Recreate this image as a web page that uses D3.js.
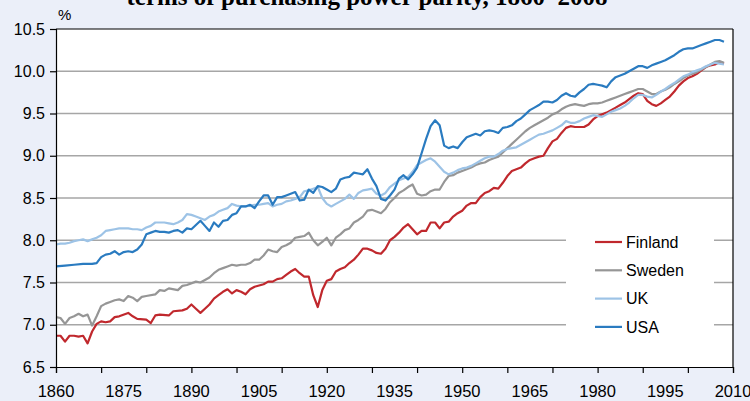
<!DOCTYPE html>
<html>
<head>
<meta charset="utf-8">
<script src="https://cdn.jsdelivr.net/npm/d3@7"></script>
<style>
  body { margin: 0; background: #ebeff9; }
  svg { display: block; }
  text { font-family: "Liberation Sans", Arial, sans-serif; }
</style>
</head>
<body>
<svg id="chart" width="750" height="401"></svg>
<script>
// log of GDP per capita ([year, value])
var finland = [[1860,6.87],[1861,6.87],[1862,6.80],[1863,6.87],[1864,6.87],[1865,6.86],[1866,6.87],[1867,6.78],[1868,6.92],[1869,7.01],[1870,7.04],[1871,7.03],[1872,7.04],[1873,7.09],[1874,7.10],[1876,7.14],[1877,7.10],[1878,7.07],[1880,7.06],[1881,7.02],[1882,7.11],[1883,7.12],[1885,7.11],[1886,7.16],[1888,7.17],[1889,7.19],[1890,7.24],[1891,7.19],[1892,7.14],[1893,7.19],[1894,7.24],[1895,7.31],[1896,7.35],[1897,7.39],[1898,7.42],[1899,7.37],[1900,7.41],[1901,7.39],[1902,7.36],[1903,7.42],[1904,7.45],[1906,7.48],[1907,7.51],[1908,7.51],[1909,7.54],[1910,7.55],[1911,7.59],[1912,7.63],[1913,7.66],[1914,7.61],[1915,7.57],[1916,7.57],[1917,7.35],[1918,7.21],[1919,7.41],[1920,7.52],[1921,7.54],[1922,7.63],[1923,7.66],[1924,7.68],[1925,7.73],[1926,7.77],[1927,7.83],[1928,7.90],[1929,7.90],[1930,7.88],[1931,7.85],[1932,7.84],[1933,7.90],[1934,8.00],[1935,8.04],[1936,8.09],[1937,8.15],[1938,8.19],[1939,8.13],[1940,8.07],[1941,8.11],[1942,8.11],[1943,8.21],[1944,8.21],[1945,8.14],[1946,8.21],[1947,8.22],[1948,8.28],[1949,8.32],[1950,8.35],[1951,8.41],[1952,8.44],[1953,8.44],[1954,8.51],[1955,8.56],[1956,8.58],[1957,8.62],[1958,8.61],[1959,8.68],[1960,8.76],[1961,8.82],[1962,8.84],[1963,8.86],[1964,8.91],[1965,8.95],[1966,8.97],[1967,8.99],[1968,9.00],[1969,9.09],[1970,9.17],[1971,9.20],[1972,9.27],[1973,9.33],[1974,9.35],[1975,9.34],[1976,9.34],[1977,9.34],[1978,9.37],[1979,9.43],[1980,9.47],[1981,9.49],[1982,9.51],[1983,9.54],[1984,9.57],[1985,9.60],[1986,9.63],[1987,9.67],[1988,9.71],[1989,9.74],[1990,9.73],[1991,9.65],[1992,9.61],[1993,9.59],[1994,9.62],[1995,9.66],[1996,9.70],[1997,9.76],[1998,9.83],[1999,9.88],[2000,9.92],[2001,9.94],[2002,9.97],[2003,10.01],[2004,10.05],[2005,10.07],[2006,10.08],[2007,10.11],[2008,10.09]];

var sweden = [[1860,7.09],[1861,7.08],[1862,7.01],[1863,7.08],[1864,7.10],[1865,7.13],[1866,7.10],[1867,7.12],[1868,6.99],[1869,7.10],[1870,7.22],[1871,7.25],[1872,7.27],[1873,7.29],[1874,7.30],[1875,7.28],[1876,7.34],[1877,7.32],[1878,7.28],[1879,7.33],[1880,7.34],[1882,7.36],[1883,7.41],[1884,7.40],[1885,7.43],[1887,7.41],[1888,7.46],[1889,7.47],[1891,7.51],[1892,7.50],[1893,7.53],[1894,7.56],[1895,7.61],[1896,7.65],[1897,7.67],[1898,7.69],[1899,7.71],[1900,7.70],[1901,7.71],[1902,7.71],[1903,7.73],[1904,7.77],[1905,7.77],[1906,7.82],[1907,7.89],[1908,7.87],[1909,7.86],[1910,7.92],[1911,7.94],[1912,7.97],[1913,8.03],[1914,8.04],[1915,8.05],[1916,8.09],[1917,8.00],[1918,7.94],[1919,7.98],[1920,8.03],[1921,7.94],[1922,8.03],[1923,8.07],[1924,8.12],[1925,8.14],[1926,8.21],[1927,8.24],[1928,8.28],[1929,8.35],[1930,8.36],[1931,8.34],[1932,8.32],[1933,8.37],[1934,8.45],[1935,8.50],[1936,8.56],[1937,8.59],[1938,8.63],[1939,8.66],[1940,8.55],[1941,8.53],[1942,8.54],[1943,8.58],[1944,8.60],[1945,8.60],[1946,8.69],[1947,8.76],[1948,8.77],[1949,8.80],[1950,8.82],[1951,8.84],[1952,8.86],[1953,8.89],[1954,8.91],[1955,8.92],[1956,8.95],[1957,8.97],[1958,8.99],[1959,9.04],[1960,9.09],[1961,9.14],[1962,9.19],[1963,9.24],[1964,9.29],[1965,9.33],[1966,9.36],[1967,9.39],[1968,9.42],[1969,9.45],[1970,9.49],[1971,9.51],[1972,9.55],[1973,9.58],[1974,9.60],[1975,9.61],[1976,9.60],[1977,9.59],[1978,9.61],[1979,9.62],[1980,9.62],[1981,9.63],[1982,9.65],[1983,9.67],[1984,9.69],[1985,9.71],[1986,9.73],[1987,9.75],[1988,9.77],[1989,9.79],[1990,9.79],[1991,9.76],[1992,9.73],[1993,9.73],[1994,9.76],[1995,9.78],[1996,9.81],[1997,9.85],[1998,9.88],[1999,9.92],[2000,9.95],[2001,9.97],[2002,9.99],[2003,10.02],[2004,10.05],[2005,10.08],[2006,10.11],[2007,10.12],[2008,10.10]];

var uk = [[1860,7.95],[1861,7.96],[1862,7.96],[1863,7.97],[1864,7.99],[1865,8.00],[1866,8.01],[1867,7.99],[1868,8.01],[1869,8.03],[1870,8.06],[1871,8.11],[1872,8.12],[1873,8.13],[1874,8.14],[1875,8.14],[1876,8.14],[1877,8.13],[1878,8.13],[1879,8.12],[1880,8.15],[1881,8.17],[1882,8.21],[1883,8.21],[1884,8.21],[1885,8.20],[1886,8.19],[1887,8.21],[1888,8.24],[1889,8.31],[1890,8.30],[1891,8.28],[1892,8.26],[1893,8.24],[1894,8.28],[1895,8.30],[1896,8.34],[1897,8.36],[1898,8.38],[1899,8.43],[1900,8.41],[1901,8.40],[1902,8.40],[1903,8.41],[1904,8.42],[1905,8.42],[1906,8.43],[1907,8.44],[1908,8.40],[1909,8.42],[1910,8.43],[1911,8.46],[1912,8.47],[1913,8.49],[1914,8.51],[1915,8.58],[1916,8.59],[1917,8.61],[1918,8.63],[1919,8.50],[1920,8.43],[1921,8.40],[1922,8.43],[1923,8.46],[1924,8.49],[1925,8.54],[1926,8.49],[1927,8.56],[1928,8.59],[1929,8.60],[1930,8.61],[1931,8.55],[1932,8.53],[1933,8.56],[1934,8.63],[1935,8.67],[1936,8.71],[1937,8.73],[1938,8.75],[1939,8.81],[1940,8.89],[1941,8.92],[1942,8.95],[1943,8.97],[1944,8.93],[1945,8.87],[1946,8.81],[1947,8.78],[1948,8.80],[1949,8.83],[1950,8.85],[1951,8.86],[1952,8.88],[1953,8.91],[1954,8.94],[1955,8.97],[1956,8.99],[1957,8.99],[1958,9.02],[1959,9.06],[1960,9.08],[1961,9.09],[1962,9.10],[1963,9.13],[1964,9.16],[1965,9.19],[1966,9.22],[1967,9.25],[1968,9.26],[1969,9.28],[1970,9.30],[1971,9.33],[1972,9.36],[1973,9.41],[1974,9.39],[1975,9.39],[1976,9.41],[1977,9.44],[1978,9.46],[1979,9.48],[1980,9.47],[1981,9.46],[1982,9.49],[1983,9.52],[1984,9.54],[1985,9.56],[1986,9.59],[1987,9.63],[1988,9.68],[1989,9.72],[1990,9.72],[1991,9.70],[1992,9.69],[1993,9.72],[1994,9.76],[1995,9.79],[1996,9.83],[1997,9.86],[1998,9.90],[1999,9.94],[2000,9.96],[2001,9.99],[2002,10.01],[2003,10.03],[2004,10.06],[2005,10.08],[2006,10.10],[2007,10.09],[2008,10.08]];

var usa = [[1860,7.69],[1862,7.70],[1864,7.71],[1866,7.72],[1868,7.72],[1869,7.73],[1870,7.80],[1871,7.83],[1872,7.84],[1873,7.87],[1874,7.83],[1875,7.86],[1876,7.87],[1877,7.86],[1878,7.89],[1879,7.95],[1880,8.07],[1881,8.09],[1882,8.11],[1883,8.10],[1884,8.10],[1885,8.09],[1886,8.11],[1887,8.12],[1888,8.09],[1889,8.14],[1890,8.13],[1891,8.18],[1892,8.23],[1893,8.17],[1894,8.11],[1895,8.21],[1896,8.16],[1897,8.23],[1898,8.24],[1899,8.30],[1900,8.32],[1901,8.40],[1902,8.40],[1903,8.42],[1904,8.38],[1905,8.46],[1906,8.53],[1907,8.53],[1908,8.42],[1909,8.51],[1910,8.51],[1911,8.53],[1912,8.55],[1913,8.57],[1914,8.47],[1915,8.48],[1916,8.60],[1917,8.56],[1918,8.64],[1919,8.63],[1920,8.60],[1921,8.57],[1922,8.61],[1923,8.72],[1924,8.74],[1925,8.75],[1926,8.80],[1927,8.79],[1928,8.78],[1929,8.84],[1930,8.73],[1931,8.64],[1932,8.49],[1933,8.47],[1934,8.53],[1935,8.60],[1936,8.73],[1937,8.77],[1938,8.72],[1939,8.78],[1940,8.86],[1941,9.03],[1942,9.20],[1943,9.35],[1944,9.42],[1945,9.36],[1946,9.12],[1947,9.09],[1948,9.11],[1949,9.09],[1950,9.16],[1951,9.22],[1952,9.24],[1953,9.26],[1954,9.24],[1955,9.29],[1956,9.30],[1957,9.29],[1958,9.27],[1959,9.33],[1960,9.34],[1961,9.36],[1962,9.41],[1963,9.44],[1964,9.49],[1965,9.54],[1966,9.57],[1967,9.60],[1968,9.64],[1969,9.64],[1970,9.63],[1971,9.66],[1972,9.71],[1973,9.74],[1974,9.71],[1975,9.70],[1976,9.75],[1977,9.79],[1978,9.84],[1979,9.85],[1980,9.84],[1981,9.83],[1982,9.81],[1983,9.88],[1984,9.93],[1985,9.95],[1986,9.97],[1987,10.00],[1988,10.03],[1989,10.06],[1990,10.06],[1991,10.04],[1992,10.07],[1993,10.09],[1994,10.11],[1995,10.13],[1996,10.16],[1997,10.19],[1998,10.23],[1999,10.26],[2000,10.27],[2001,10.27],[2002,10.29],[2003,10.31],[2004,10.33],[2005,10.35],[2006,10.37],[2007,10.37],[2008,10.35]];

var seriesNames = ["Finland", "Sweden", "UK", "USA"];
var seriesColors = ["#c0282d", "#969696", "#9dc3e6", "#2a7bc0"];
var yTicks = [6.5, 7.0, 7.5, 8.0, 8.5, 9.0, 9.5, 10.0, 10.5];
var xLabelYears = [1860, 1875, 1890, 1905, 1920, 1935, 1950, 1965, 1980, 1995, 2010];
var xTickYears = [1860, 1870, 1880, 1890, 1900, 1910, 1920, 1930, 1940, 1950, 1960, 1970, 1980, 1990, 2000, 2010];

var svg = d3.select("#chart");
var plotLeft = 56, plotRight = 733, plotTop = 29, plotBottom = 367;

var x = d3.scaleLinear().domain([1860, 2010]).range([plotLeft, plotRight]);
var y = d3.scaleLinear().domain([6.5, 10.5]).range([plotBottom, plotTop]);

// title, mostly cut off by the top of the picture
svg.append("text")
    .attr("x", 367).attr("y", 5)
    .attr("text-anchor", "middle")
    .style("font-family", "'Liberation Serif', 'Times New Roman', serif")
    .style("font-weight", "bold")
    .style("font-size", "25px")
    .text("terms of purchasing power parity, 1860\u20132008");

// white plot area
svg.append("rect")
    .attr("x", plotLeft).attr("y", plotTop)
    .attr("width", plotRight - plotLeft).attr("height", plotBottom - plotTop)
    .style("fill", "white");

// gridlines
svg.selectAll(".grid")
    .data(yTicks.slice(1, -1))
    .enter().append("line")
    .attr("class", "grid")
    .attr("x1", plotLeft).attr("x2", plotRight)
    .attr("y1", function(d) { return y(d); })
    .attr("y2", function(d) { return y(d); })
    .style("stroke", "#a6a6a6")
    .style("stroke-width", 1.5);

// legend box hides the gridlines behind it
svg.append("rect")
    .attr("x", 566).attr("y", 226)
    .attr("width", 148).attr("height", 118)
    .style("fill", "white");

// lines
var line = d3.line()
    .x(function(d) { return x(d[0]); })
    .y(function(d) { return y(d[1]); });

var allSeries = [finland, sweden, uk, usa];
svg.selectAll(".series")
    .data(allSeries)
    .enter().append("path")
    .attr("class", "series")
    .attr("d", line)
    .style("fill", "none")
    .style("stroke", function(d, i) { return seriesColors[i]; })
    .style("stroke-width", 2.2)
    .style("stroke-linejoin", "round");

// border
svg.append("line").attr("x1", plotLeft).attr("x2", plotRight).attr("y1", plotTop).attr("y2", plotTop)
    .style("stroke", "black").style("stroke-width", 1.2);
svg.append("line").attr("x1", plotRight).attr("x2", plotRight).attr("y1", plotTop).attr("y2", plotBottom)
    .style("stroke", "black").style("stroke-width", 1.2);

// y axis
var yAxis = svg.append("g")
    .attr("transform", "translate(" + plotLeft + ",0)")
    .call(d3.axisLeft(y).tickValues(yTicks).tickFormat(d3.format(".1f")).tickSize(6).tickPadding(5));

// x axis: ticks every 10 years, labels every 15
var xAxis = svg.append("g")
    .attr("transform", "translate(0," + plotBottom + ")")
    .call(d3.axisBottom(x).tickValues(xTickYears).tickFormat("").tickSize(6));

svg.selectAll(".xlabel")
    .data(xLabelYears)
    .enter().append("text")
    .attr("class", "xlabel")
    .attr("x", function(d) { return x(d); })
    .attr("y", 397)
    .attr("text-anchor", "middle")
    .style("font-size", "16.5px")
    .text(function(d) { return d; });

svg.selectAll(".domain").style("stroke", "black").style("stroke-width", 1.2);
svg.selectAll(".tick line").style("stroke", "black").style("stroke-width", 1.2);
yAxis.selectAll("text").style("font-size", "16px").style("font-family", "'Liberation Sans', Arial, sans-serif").style("fill", "black");

svg.append("text")
    .attr("x", 58).attr("y", 20)
    .style("font-size", "15px")
    .text("%");

// legend
var legend = svg.selectAll(".legend")
    .data(seriesNames)
    .enter().append("g")
    .attr("class", "legend")
    .attr("transform", function(d, i) { return "translate(595," + (242 + i * 28.3) + ")"; });

legend.append("line")
    .attr("x1", 0).attr("x2", 27)
    .style("stroke", function(d, i) { return seriesColors[i]; })
    .style("stroke-width", 2.2);

legend.append("text")
    .attr("x", 31).attr("dy", "0.36em")
    .style("font-size", "16px")
    .text(function(d) { return d; });
</script>
</body>
</html>
